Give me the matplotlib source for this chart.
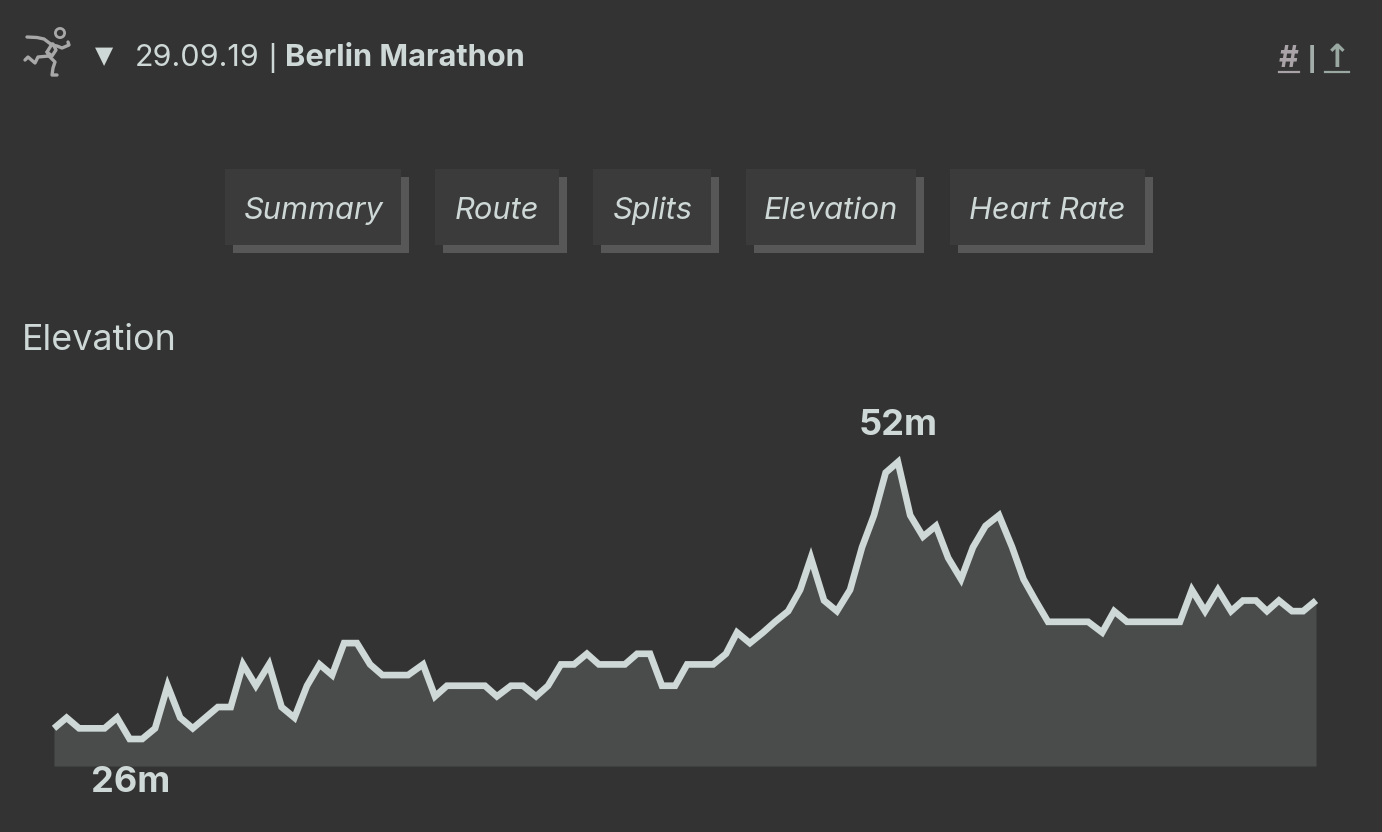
import matplotlib
matplotlib.use("Agg")
import matplotlib.pyplot as plt
from matplotlib.patches import Rectangle, Circle

elevation = [27,28,27,27,27,28,26,26,27,31,28,27,28,29,29,33,31,33,29,28,
             31,33,32,35,35,33,32,32,32,33,30,31,31,31,31,30,31,31,30,31,
             33,33,34,33,33,33,34,34,31,31,33,33,33,34,36,35,36,37,38,40,
             43,39,38,40,44,47,51,52,47,45,46,43,41,44,46,47,44,41,39,37,
             37,37,37,36,38,37,37,37,37,37,40,38,40,38,39,39,38,39,38,38,39]
distance_km = [0,0.42,0.84,1.27,1.69,2.11,2.53,2.95,3.38,3.80,
               4.22,4.64,5.06,5.48,5.91,6.32,6.75,7.19,7.61,8.04,
               8.46,8.88,9.30,9.70,10.13,10.57,10.98,11.40,11.84,12.34,
               12.74,13.14,13.58,13.99,14.41,14.81,15.28,15.68,16.12,16.52,
               16.95,17.39,17.82,18.22,18.66,19.09,19.50,19.93,20.33,20.77,
               21.17,21.60,22.04,22.47,22.84,23.27,23.71,24.11,24.55,24.95,
               25.31,25.75,26.18,26.62,27.02,27.42,27.81,28.22,28.63,29.06,
               29.49,29.90,30.33,30.73,31.15,31.60,32.04,32.42,32.82,33.24,
               33.67,34.14,34.58,35.05,35.45,35.88,36.32,36.75,37.22,37.65,
               38.05,38.49,38.92,39.36,39.76,40.19,40.56,40.96,41.40,41.77,42.20]
tabs = ["Summary", "Route", "Splits", "Elevation", "Heart Rate"]
tab_left = [225, 435, 593, 746, 950]
tab_right = [401, 559, 711, 916, 1145]
date_text = "29.09.19"
race_name = "Berlin Marathon"
section = "Elevation"

W, H = 1382, 832
BG = "#333333"; FG = "#ced8d6"
plt.rcParams["font.family"] = ["Inter", "DejaVu Sans"]
fig = plt.figure(figsize=(W/100, H/100), dpi=100, facecolor=BG)

# page-level overlay in pixel coordinates
ov = fig.add_axes([0, 0, 1, 1], zorder=1)
ov.set_xlim(0, W); ov.set_ylim(H, 0); ov.axis("off")

# runner icon
ic = dict(color="#a8a8a8", lw=2.4, solid_capstyle="round", solid_joinstyle="round")
ov.add_patch(Circle((60, 33), 4.6, fill=False, ec="#a8a8a8", lw=2.0))
ov.plot([27,37,44,52,57,62,69,68],[37,37.5,39,45,46,48,45,42], **ic)
ov.plot([52,47,49,55,53,52,57],[44,52,56,62,68,75,75], **ic)
ov.plot([49,38,35,28,25],[56,57,63,57,60], **ic)
ov.plot([53,56,52,47],[44,50,56,52], **ic)

ov.text(104.5, 56, "▼", family="DejaVu Sans", fontsize=17, color=FG, ha="center", va="center")
ov.text(135, 66, date_text, fontsize=22, color=FG, va="baseline")
ov.text(272, 66, "|", family="Liberation Sans", fontsize=22, color=FG, ha="center", va="baseline")
ov.text(285.5, 66, race_name, fontsize=22.2, fontweight="bold", color=FG, va="baseline")
ov.text(1289, 67, "#", fontsize=22, fontweight="bold", color="#a9a3a8", ha="center", va="baseline")
ov.plot([1279, 1299], [72, 72], color="#a9a3a8", lw=1.6)
ov.text(1312, 67, "|", family="Liberation Sans", fontsize=21, fontweight="bold", color="#a3aeaa", ha="center", va="baseline")
ov.text(1337, 67, "↑", family="DejaVu Sans", fontsize=23, fontweight="bold", color="#9aa8a2", ha="center", va="baseline")
ov.plot([1325, 1349], [72, 72], color="#9aa8a2", lw=1.6)

for name, l, r in zip(tabs, tab_left, tab_right):
    ov.add_patch(Rectangle((l+8, 177), r-l, 76, fc="#575757", ec="none"))
    ov.add_patch(Rectangle((l, 169), r-l, 76, fc="#3b3b3b", ec="none"))
    ov.text((l+r)/2, 219, name, fontsize=22.2, style="italic", color=FG, ha="center", va="baseline")

ov.text(22, 349.5, section, fontsize=25.8, color=FG, va="baseline")

# elevation chart
top_y, base_y, y52, y26 = 462, 766, 462, 739
per_m = (y26 - y52) / (52 - 26)
ax = fig.add_axes([54/W, 1-base_y/H, (1316-54)/W, (base_y-top_y)/H], zorder=2)
ax.set_facecolor("none")
ax.axis("off")
ax.set_xlim(0, distance_km[-1])
ymin = 26 - (base_y - y26) / per_m
ax.set_ylim(ymin, 52)
ax.fill_between(distance_km, elevation, ymin, color="#4a4c4b", lw=0, clip_on=False)
ax.plot(distance_km, elevation, color=FG, lw=4.8, clip_on=False, solid_joinstyle="miter", solid_capstyle="butt")
hi = elevation.index(max(elevation)); lo = elevation.index(min(elevation))
ax.annotate(f"{max(elevation)}m", (distance_km[hi], max(elevation)), xytext=(0, 20), textcoords="offset pixels",
            fontsize=26, fontweight="bold", color=FG, ha="center", va="bottom", annotation_clip=False)
ax.annotate(f"{min(elevation)}m", (distance_km[lo], min(elevation)), xytext=(1, -53), textcoords="offset pixels",
            fontsize=26, fontweight="bold", color=FG, ha="center", va="baseline", annotation_clip=False)

fig.savefig("out.png", dpi=100, facecolor=BG)
